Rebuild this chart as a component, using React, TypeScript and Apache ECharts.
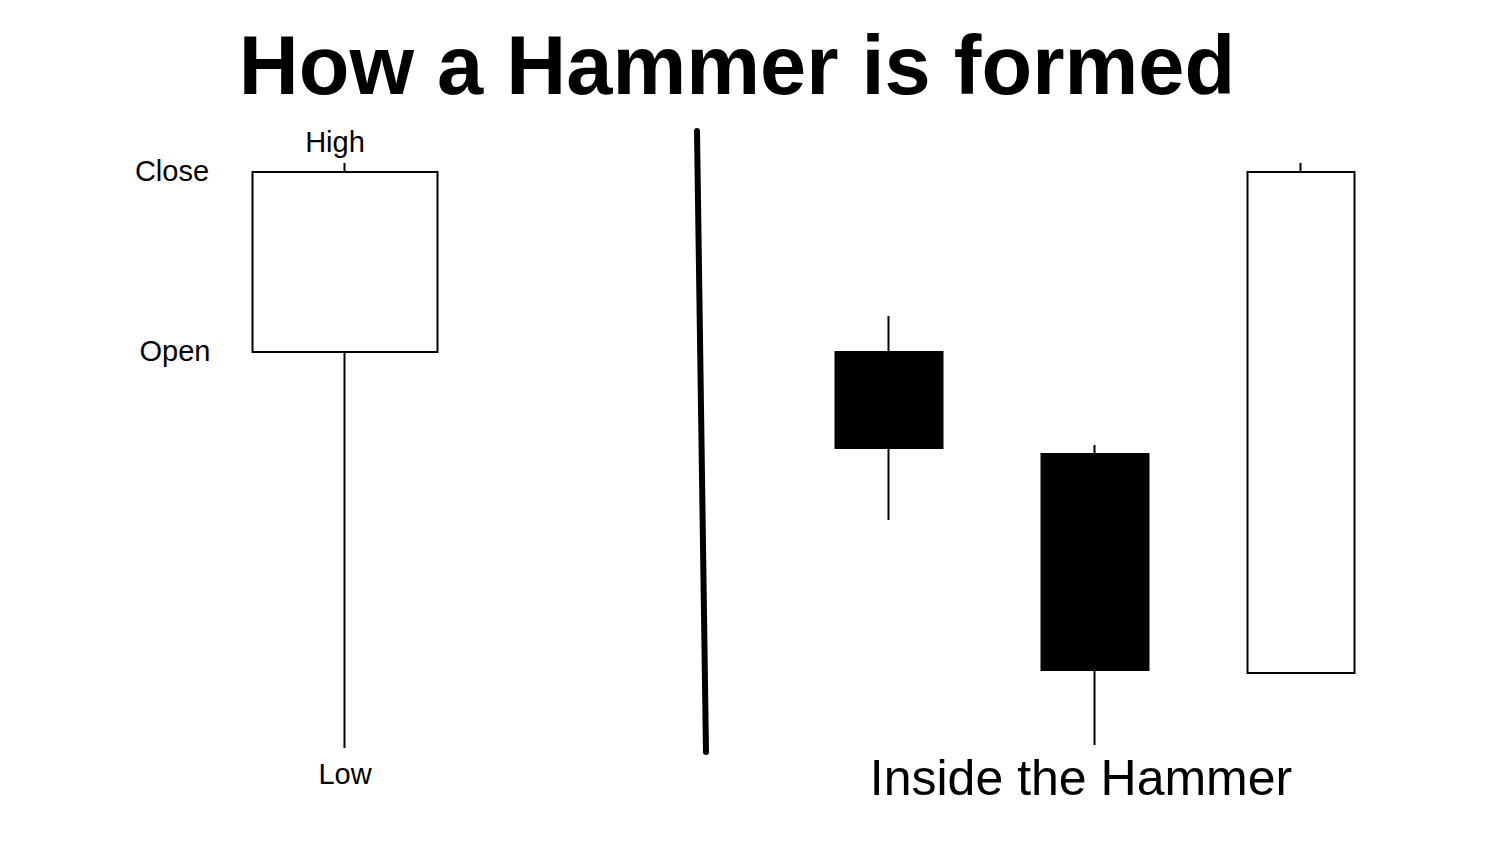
import React, { useEffect, useRef } from "react";
import * as echarts from "echarts";

// [open, close, low, high]
const hammerCategory = ["Hammer"];
const hammerValues = [[68, 98, 2, 99.5]];
const insideCategories = ["Bar 1", "Bar 2", "Bar 3"];
const insideValues = [
  [68, 52, 40, 74],
  [51, 15, 2.5, 52.5],
  [14.5, 98, 14.5, 99.5],
];
const titleText = "How a Hammer is formed";
const insideLabel = "Inside the Hammer";
const pointNames = ["High", "Close", "Open", "Low"];

const FONT = "'Liberation Sans', Arial, Helvetica, sans-serif";

export default function App() {
  const ref = useRef<HTMLDivElement>(null);
  useEffect(() => {
    document.body.style.margin = "0";
    const chart = echarts.init(ref.current!, null, { renderer: "svg" });
    const h = hammerValues[0];
    const style = {
      color: "#fff",
      color0: "#000",
      borderColor: "#000",
      borderColor0: "#000",
      borderWidth: 2,
    };
    chart.setOption({
      animation: false,
      backgroundColor: "#fff",
      textStyle: { fontFamily: FONT },
      grid: [
        { left: 245, width: 200, top: 160, height: 600 },
        { left: 786, width: 618, top: 160, height: 600 },
      ],
      xAxis: [
        { type: "category", gridIndex: 0, data: hammerCategory, show: false },
        { type: "category", gridIndex: 1, data: insideCategories, show: false },
      ],
      yAxis: [
        { type: "value", gridIndex: 0, min: 0, max: 100, show: false },
        { type: "value", gridIndex: 1, min: 0, max: 100, show: false },
      ],
      series: [
        {
          type: "candlestick",
          xAxisIndex: 0,
          yAxisIndex: 0,
          data: hammerValues,
          barWidth: 186,
          itemStyle: style,
        },
        {
          type: "candlestick",
          xAxisIndex: 1,
          yAxisIndex: 1,
          data: insideValues,
          barWidth: 107,
          itemStyle: style,
        },
      ],
    });

    // labels anchored to the hammer's High / Close / Open / Low values
    const vals: Record<string, number> = { High: h[3], Close: h[1], Open: h[0], Low: h[2] };
    const offsets: Record<string, number[]> = {
      High: [-10, -21],
      Close: [-173, -1],
      Open: [-170, -1],
      Low: [0, 26],
    };
    const labels = pointNames.map((n) => {
      const p = chart.convertToPixel({ xAxisIndex: 0, yAxisIndex: 0 }, [
        hammerCategory[0],
        vals[n],
      ]) as number[];
      return {
        type: "text",
        x: p[0] + offsets[n][0],
        y: p[1] + offsets[n][1],
        style: {
          text: n,
          fontSize: 29,
          fontFamily: FONT,
          fill: "#000",
          align: "center",
          verticalAlign: "middle",
        },
      };
    });

    chart.setOption({
      graphic: [
        {
          type: "text",
          x: 737,
          y: 65,
          style: {
            text: titleText,
            fontSize: 83,
            fontWeight: "bold",
            fontFamily: FONT,
            fill: "#000",
            align: "center",
            verticalAlign: "middle",
          },
        },
        {
          type: "line",
          shape: { x1: 697, y1: 131, x2: 706, y2: 752 },
          style: { stroke: "#000", lineWidth: 6, lineCap: "round" },
        },
        {
          type: "text",
          x: 1081,
          y: 778,
          style: {
            text: insideLabel,
            fontSize: 50,
            fontFamily: FONT,
            fill: "#000",
            align: "center",
            verticalAlign: "middle",
          },
        },
        ...labels,
      ],
    });
    return () => chart.dispose();
  }, []);
  return (
    <div
      ref={ref}
      style={{ position: "absolute", left: 0, top: 0, width: 1500, height: 844 }}
    />
  );
}
